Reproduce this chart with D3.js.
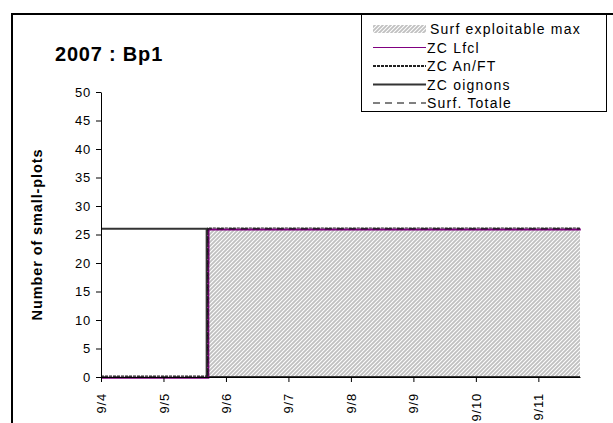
<!DOCTYPE html>
<html>
<head>
<meta charset="utf-8">
<script src="https://cdn.jsdelivr.net/npm/d3@7"></script>
<style>
  body { margin: 0; background: #fff; }
  svg { display: block; font-family: "Liberation Sans", Arial, sans-serif; }
</style>
</head>
<body>
<svg id="chart" width="613" height="423"></svg>
<script>
// ---- data ----
const tickDays = ["2007-09-04", "2007-09-05", "2007-09-06", "2007-09-07",
                  "2007-09-08", "2007-09-09", "2007-09-10", "2007-09-11"];
const tickLabels = ["9/4", "9/5", "9/6", "9/7", "9/8", "9/9", "9/10", "9/11"];
const yTicks = [0, 5, 10, 15, 20, 25, 30, 35, 40, 45, 50];

const surfMaxTimes = ["2007-09-04T00:00", "2007-09-05T17:00", "2007-09-11T16:00"];
const surfMaxValues = [0, 26, 26];

const lfclTimes = ["2007-09-04T00:00", "2007-09-05T16:55", "2007-09-05T17:00", "2007-09-11T16:00"];
const lfclValues = [0, 20, 26, 26];

const anftTimes = ["2007-09-04T00:00", "2007-09-05T17:00", "2007-09-11T16:00"];
const anftValues = [0, 26, 26];

const oignonsTimes = ["2007-09-04T00:00", "2007-09-05T16:35", "2007-09-11T16:00"];
const oignonsValues = [26, 0, 0];

const totaleTimes = ["2007-09-04T00:00", "2007-09-05T17:00", "2007-09-11T16:00"];
const totaleValues = [0, 26, 26];

const legendLabels = ["Surf  exploitable max", "ZC Lfcl", "ZC An/FT", "ZC oignons", "Surf. Totale"];

// ---- layout ----
const svg = d3.select('#chart');
const margin = {left: 101, top: 92, right: 33, bottom: 46};
const W = 613, H = 423;
const parse = d3.isoParse;
const toSeries = (ts, vs) => ts.map((t, i) => ({t: parse(t), v: vs[i]}));

const x = d3.scaleTime()
    .domain([parse("2007-09-04T00:00"), parse("2007-09-11T16:00")])
    .range([margin.left, W - margin.right]);
const y = d3.scaleLinear().domain([0, 50]).range([H - margin.bottom, margin.top]);

// hatch pattern
const defs = svg.append('defs');
const pat = defs.append('pattern')
    .attr('id', 'hatch')
    .attr('patternUnits', 'userSpaceOnUse')
    .attr('width', 4).attr('height', 4);
pat.append('rect').attr('width', 4).attr('height', 4).attr('fill', '#fff');
pat.append('path')
    .attr('d', 'M-1,1 l2,-2 M0,4 l4,-4 M3,5 l2,-2')
    .attr('stroke', '#c0c0c0').attr('stroke-width', 1.8);

// outer frame (top and left visible)
svg.append('path')
    .attr('d', `M12,${H} L12,14 L${W},14`)
    .attr('fill', 'none').attr('stroke', '#000').attr('stroke-width', 2);

// title
svg.append('text')
    .attr('x', 55).attr('y', 61)
    .attr('font-size', 20).attr('font-weight', 'bold')
    .attr('letter-spacing', 0.8)
    .text('2007 : Bp1');

// area
const area = d3.area()
    .curve(d3.curveStepAfter)
    .x(d => x(d.t)).y0(y(0)).y1(d => y(d.v));
svg.append('path')
    .datum(toSeries(surfMaxTimes, surfMaxValues))
    .attr('d', area)
    .attr('fill', 'url(#hatch)');

const line = d3.line().curve(d3.curveStepAfter).x(d => x(d.t)).y(d => y(d.v));

svg.append('path')
    .datum(toSeries(oignonsTimes, oignonsValues))
    .attr('d', line).attr('fill', 'none')
    .attr('stroke', '#333').attr('stroke-width', 2);

svg.append('path')
    .datum(toSeries(lfclTimes, lfclValues))
    .attr('d', line).attr('fill', 'none')
    .attr('stroke', '#800080').attr('stroke-width', 2)
    .attr('transform', 'translate(0.8,0.8)');

svg.append('path')
    .datum(toSeries(totaleTimes, totaleValues))
    .attr('d', line).attr('fill', 'none')
    .attr('stroke', '#000').attr('stroke-width', 1)
    .attr('stroke-dasharray', '7,5');

svg.append('path')
    .datum(toSeries(anftTimes, anftValues))
    .attr('d', line).attr('fill', 'none')
    .attr('stroke', '#222').attr('stroke-width', 1.2)
    .attr('stroke-dasharray', '3,1')
    .attr('transform', 'translate(0,-0.8)');

const tickFont = t => t
    .attr('font-size', 13).attr('font-family', '"Liberation Sans", Arial, sans-serif')
    .attr('letter-spacing', 0.8)
    .attr('fill', '#000');

// y axis
const yAxis = svg.append('g')
    .attr('transform', `translate(${margin.left},0)`)
    .call(d3.axisLeft(y).tickValues(yTicks).tickSize(5).tickSizeOuter(0).tickPadding(5));
yAxis.select('.domain').attr('stroke', '#000');
yAxis.selectAll('text').call(tickFont);

// x axis
const xAxis = svg.append('g')
    .attr('transform', `translate(0,${y(0)})`)
    .call(d3.axisBottom(x).tickValues(tickDays.map(parse)).tickSize(5).tickSizeOuter(0)
        .tickFormat((d, i) => tickLabels[i]));
xAxis.select('.domain').attr('stroke', '#000');
xAxis.selectAll('text').call(tickFont)
    .attr('text-anchor', 'end')
    .attr('transform', 'rotate(-90)')
    .attr('x', -16).attr('y', 0).attr('dy', '0.35em');

// y label
svg.append('text')
    .attr('transform', `translate(42,${(y(0) + y(50)) / 2}) rotate(-90)`)
    .attr('text-anchor', 'middle')
    .attr('font-size', 14.5).attr('font-weight', 'bold')
    .attr('letter-spacing', 0.9)
    .text('Number of small-plots');

// legend
const lg = svg.append('g');
lg.append('rect')
    .attr('x', 361.5).attr('y', 14.5).attr('width', 245).attr('height', 97)
    .attr('fill', '#fff').attr('stroke', '#000').attr('stroke-width', 1);
const rowY = d3.scalePoint().domain(legendLabels).range([29, 103]);
const swatch = {x0: 373, x1: 426};
legendLabels.forEach((lab, i) => {
    const cy = rowY(lab);
    if (i === 0) {
        lg.append('rect').attr('x', swatch.x0).attr('y', cy - 4)
            .attr('width', swatch.x1 - swatch.x0).attr('height', 8)
            .attr('fill', 'url(#hatch)');
    } else {
        const st = [null,
            {c: '#800080', w: 1, d: null},
            {c: '#222', w: 2, d: '3,1'},
            {c: '#333', w: 2, d: null},
            {c: '#000', w: 1, d: '7,5'}][i];
        lg.append('line').attr('x1', swatch.x0).attr('x2', swatch.x1)
            .attr('y1', cy).attr('y2', cy)
            .attr('stroke', st.c).attr('stroke-width', st.w)
            .attr('stroke-dasharray', st.d);
    }
    lg.append('text').attr('x', i === 0 ? 430 : 427).attr('y', cy + 5)
        .attr('font-size', 14).attr('letter-spacing', 1.2)
        .text(lab);
});
</script>
</body>
</html>
